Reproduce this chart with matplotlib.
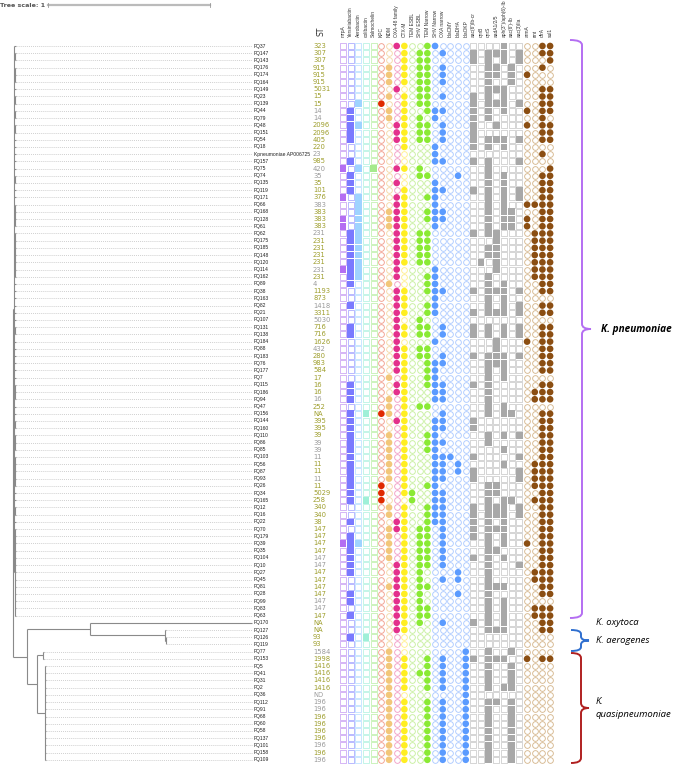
import numpy as np
import matplotlib.pyplot as plt
from matplotlib.path import Path
from matplotlib.patches import PathPatch

isolates = ["FQ37", "FQ147", "FQ143", "FQ176", "FQ174", "FQ164", "FQ149", "FQ23", "FQ139", "FQ44",
            "FQ79", "FQ48", "FQ151", "FQ54", "FQ18", "Kpneumoniae AP006725", "FQ157", "FQ75", "FQ74", "FQ135",
            "FQ119", "FQ171", "FQ66", "FQ168", "FQ128", "FQ61", "FQ62", "FQ175", "FQ185", "FQ148",
            "FQ120", "FQ114", "FQ162", "FQ89", "FQ38", "FQ163", "FQ82", "FQ21", "FQ107", "FQ131",
            "FQ138", "FQ184", "FQ88", "FQ183", "FQ76", "FQ177", "FQ7", "FQ115", "FQ186", "FQ94",
            "FQ47", "FQ156", "FQ144", "FQ160", "FQ110", "FQ86", "FQ85", "FQ103", "FQ56", "FQ87",
            "FQ93", "FQ26", "FQ34", "FQ165", "FQ12", "FQ16", "FQ22", "FQ70", "FQ179", "FQ39",
            "FQ35", "FQ104", "FQ10", "FQ27", "FQ45", "FQ81", "FQ28", "FQ99", "FQ83", "FQ63",
            "FQ170", "FQ127", "FQ126", "FQ119", "FQ77", "FQ153", "FQ5", "FQ41", "FQ31", "FQ2",
            "FQ36", "FQ112", "FQ91", "FQ68", "FQ60", "FQ58", "FQ137", "FQ101", "FQ158", "FQ109"]

st_types = ["323", "307", "307", "915", "915", "915", "5031", "15", "15", "14",
            "14", "2096", "2096", "405", "220", "23", "985", "420", "35", "35",
            "101", "376", "383", "383", "383", "383", "231", "231", "231", "231",
            "231", "231", "231", "4", "1193", "873", "1418", "3311", "5030", "716",
            "716", "1626", "432", "280", "983", "584", "17", "16", "16", "16",
            "252", "NA", "395", "395", "39", "39", "39", "11", "11", "11",
            "11", "11", "5029", "258", "340", "340", "38"] + ["147"] * 13 + \
           ["NA", "NA", "93", "93", "1584", "1998", "1416", "1416", "1416", "1416",
            "ND"] + ["196"] * 9

# o = olive label, g = grey label
st_shade = ("ooooooooog" "goooogoggo" "oogooogooo" "ogogoogogo" "oogoooooog"
            "ooooogggoo" "gooooooooo" "oggooooggo" "oooogooooo" "gggoooogog")

genes = ["mrpA", "Yersiniabactin", "Aerobactin", "colibactin", "Salmochelin",
         "KPC", "NDM", "OXA-48 family", "CTX-M", "TEM ESBL", "SHV ESBL", "TEM Narrow",
         "SHV Narrow", "OXA narrow", "blaCMY", "blaDHA", "blaOKP",
         "aac(6')Ib-cr", "qnrB", "qnrS", "aadA1/2/5", "aph(3'')/aph(6)-Ib", "aac(6')-Ib", "aac(3)IIa",
         "armA", "rmt", "dfrA", "sul1"]

# virulence | beta-lactamases | other resistance | brown block
profile = [
    "00000 001100110000 0000100 0011", "00000 000101101000 1011101 0011",
    "00000 000101100000 1010101 0001", "00000 010101101000 0011010 0010",
    "00000 010101101000 0011010 1000", "00000 010101101000 0010010 0000",
    "00000 001001100000 0011100 0011", "00000 010101101000 1010100 0011",
    "00100 100101100000 1011101 0011", "01000 010100111000 1010100 1011",
    "01000 010101010000 1010000 0010", "01100 001101101000 1001000 1011",
    "01000 001101101000 1000000 0011", "01000 001101101000 1011101 0011",
    "00000 000100010000 1010100 0000", "00000 000000010000 0000000 0010",
    "01000 000000011000 1010001 0000", "10101 001101000000 0010000 0001",
    "01000 000001100010 0010100 0011", "01000 001000010000 0010100 0011",
    "01000 000100011000 1010101 0011", "10100 001100110000 0010101 0011",
    "00100 001100010000 0010100 1111", "00100 011100111000 0010110 0011",
    "10100 011100111000 0010110 1011", "10100 011100010000 0010110 1011",
    "01100 001101100000 1011000 0111", "01100 001101100000 0001000 0111",
    "01100 001101100000 0011000 0111", "01100 001101100000 0011000 0111",
    "01100 001101100000 0101000 0111", "11100 001000010000 0001000 0111",
    "01100 001000110000 0010000 0111", "01000 010000110000 0010100 0011",
    "00000 001100111000 1011101 0011", "00000 001100010000 0010100 0000",
    "01000 001100110000 0010101 0011", "00000 001100110000 1011101 0011",
    "00000 001001000000 0000000 0000", "01000 001101101000 1010101 0011",
    "01000 001101101000 1010101 0011", "00000 001000010000 0001000 1011",
    "00000 001101100000 0001000 0011", "00000 001101101000 1011101 0011",
    "00000 001100111000 0011100 0011", "00000 001100110000 0010100 0011",
    "00000 010100110000 0010100 0000", "01000 001100111000 1010000 0011",
    "01000 001100011000 0010000 0111", "01000 010100011000 0010000 0111",
    "00000 010101100000 0010100 0000", "01010 110100001000 0010110 0011",
    "01000 001100011000 1000000 0011", "01000 000100011000 1000000 0011",
    "01000 010100110000 0010101 0011", "01000 010100111000 0010000 0011",
    "01000 010100110000 0000100 0011", "01000 010100011100 1000001 0011",
    "01000 010100011010 0000100 0111", "01000 010100011010 1000001 0111",
    "01000 010100011000 1000001 0111", "01000 100100110000 0011000 0111",
    "01000 100110011000 0011000 0011", "01010 100010011000 0010110 0111",
    "00000 010100111000 1011101 0011", "00000 010100111000 1011101 0011",
    "01000 001100111000 1010100 0011", "00000 011101101000 1011100 0011",
    "01000 010101101000 1010100 0011", "11100 010101101000 0010100 1011",
    "01000 010101101000 0011000 0011", "01000 010101101000 1010100 0011",
    "01000 001101101000 0010001 0011", "01000 001101000010 0010000 0111",
    "00000 001101001010 0010000 0111", "00000 011101100000 0011100 0011",
    "01000 001101000010 0010000 0011", "01000 001101000000 0010100 0000",
    "00000 001101100000 0010100 0111", "01000 001101100000 0010100 0111",
    "00000 001101001000 1010100 0011", "00000 001100000000 0011100 0011",
    "01010 000000000000 0000000 0000", "00000 000000000000 0000000 0000",
    "00000 010000000001 0010010 0000", "00000 010100101001 1011100 1011",
    "00000 010100101001 0010010 0000", "00000 010101101001 0010010 0000",
    "00000 010100101001 0010010 0000", "00000 010100101001 0010110 0000",
    "00000 010000000001 0000000 0000", "00000 010100101001 0011010 0000",
] + ["00000 010100101001 0010010 0000"] * 8

# tree: K. pneumoniae sub-clade sizes (top to bottom), branch lengths in tree units
kpn_groups = [1, 2, 3, 1, 2, 2, 2, 1, 1, 1, 1, 1, 2, 1, 1, 4, 7, 1, 1, 1, 1, 1, 1, 2, 1, 1,
              1, 1, 1, 1, 3, 1, 1, 2, 3, 5, 1, 1, 2, 1, 13]

# column fill colours and light outline colours
fill_cols = ["#b46ef2", "#7a7aff", "#9fd3ff", "#9ff0d8", "#a5ea8c",
             "#e02a00", "#f2c77a", "#e3308c", "#ffee22", "#8aea34", "#8aea34", "#8aea34",
             "#5b9bff", "#5b9bff", "#5b9bff", "#5b9bff", "#5b9bff"] + ["#a8a8a8"] * 7 + ["#8b4e12"] * 4
edge_cols = ["#d2b0f5", "#b5b5ff", "#c5e5ff", "#c0f5e6", "#c8f2b8",
             "#f2a090", "#f5d9a8", "#f2a0c8", "#fff090", "#c8f0a0", "#c8f0a0", "#c8f0a0",
             "#aecbff", "#aecbff", "#aecbff", "#aecbff", "#aecbff"] + ["#d2d2d2"] * 7 + ["#d6b990"] * 4
square_cols = list(range(0, 5)) + list(range(17, 24))

mat = np.array([[int(c) for c in p.replace(" ", "")] for p in profile])
n_rows = len(isolates)
row_y = 46 + 7.21 * np.arange(n_rows)
col_x = 343 + 7.67 * np.arange(len(genes))

fig = plt.figure(figsize=(6.96, 7.65), dpi=100)
ax = fig.add_axes([0, 0, 1, 1])
ax.set_xlim(0, 696)
ax.set_ylim(765, 0)
ax.axis("off")

# ---- tree ----
x0_px, px_per_unit = 13, 162
def leaf(i, bl):
    return (bl, i)

kpn_children = []
start = 0
for g in kpn_groups:
    if g == 1:
        kpn_children.append(leaf(start, 0.014))
    else:
        kpn_children.append((0.006, [leaf(start + k, 0.008) for k in range(g)]))
    start += g
kpn = (0.004, kpn_children)
aero = (0.465, [leaf(81, 0.006), (0.003, [leaf(82, 0.004), leaf(83, 0.004)])])
oxy_aero = (0.389, [leaf(80, 1.0), aero])
quasi = (0.062, [(0.037, [leaf(84, 0.004), leaf(85, 0.004)]),
                 (0.05, [leaf(i, 0.004 + 0.002 * (i % 3)) for i in range(86, 100)])])
tree = (0.0, [kpn, (0.086, [oxy_aero, quasi])])

segs, tips = [], []
def layout(node, parent_depth):
    bl, content = node
    d = parent_depth + bl
    X0 = x0_px + px_per_unit * parent_depth
    X = x0_px + px_per_unit * d
    if isinstance(content, (int, np.integer)):
        y = row_y[content]
        segs.append(([X0, X], [y, y]))
        tips.append((X, y))
        return y
    ys = [layout(c, d) for c in content]
    y = (min(ys) + max(ys)) / 2
    segs.append(([X, X], [min(ys), max(ys)]))
    segs.append(([X0, X], [y, y]))
    return y

layout(tree, 0.0)
for xs, ys in segs:
    ax.plot(xs, ys, color="#8a8a8a", lw=0.8, solid_capstyle="butt")
for X, y in tips:
    if X < 250:
        ax.plot([X + 1, 252], [y, y], color="#b5b5b5", lw=0.5, ls=(0, (1.2, 1.6)))

# tree scale
ax.text(0, 5, "Tree scale: 1", fontsize=4.6, fontweight="bold", color="#555555", va="center")
ax.plot([48, 48 + px_per_unit], [5, 5], color="#bbbbbb", lw=1.6)
ax.plot([48, 48], [3, 7], color="#999999", lw=0.6)
ax.plot([48 + px_per_unit] * 2, [3, 7], color="#999999", lw=0.6)

# labels
for y, name, st, sh in zip(row_y, isolates, st_types, st_shade):
    ax.text(254, y, name, fontsize=3.6, color="#222222", va="center", ha="left",
            family=["Liberation Sans", "DejaVu Sans"])
    ax.text(313, y, st, fontsize=4.9, color="#9e9e2c" if sh == "o" else "#9a9a9a",
            va="center", ha="left")
ax.text(321, 36, "ST", fontsize=5.5, rotation=90, ha="center", va="bottom", color="#333333")
for x, g in zip(col_x, genes):
    ax.text(x, 37, g, fontsize=3.5, rotation=90, ha="center", va="bottom", color="#333333",
            family=["Liberation Sans", "DejaVu Sans"])

# matrix
for j, x in enumerate(col_x):
    xs = np.full(n_rows, x)
    on = mat[:, j] == 1
    marker = "s" if j in square_cols else "o"
    ax.scatter(xs[~on], row_y[~on], marker=marker, s=17, facecolor="white",
               edgecolor=edge_cols[j], linewidth=0.65, zorder=3)
    ax.scatter(xs[on], row_y[on], marker=marker, s=23, facecolor=fill_cols[j],
               edgecolor="none", zorder=3)

# species braces
def brace(x, y0, y1, color, hook=12, tip=9, r=5):
    ym = (y0 + y1) / 2
    verts = [(x - hook, y0), (x, y0), (x, y0 + r),
             (x, ym - r), (x, ym), (x + tip, ym),
             (x, ym), (x, ym + r),
             (x, y1 - r), (x, y1), (x - hook, y1)]
    codes = [Path.MOVETO, Path.CURVE3, Path.CURVE3,
             Path.LINETO, Path.CURVE3, Path.CURVE3,
             Path.CURVE3, Path.CURVE3,
             Path.LINETO, Path.CURVE3, Path.CURVE3]
    ax.add_patch(PathPatch(Path(verts, codes), facecolor="none", edgecolor=color, lw=1.4))
    return ym

species_font = ["Open Sans", "DejaVu Sans"]
ym = brace(582, 40, 618, "#b46ef2")
ax.text(601, ym, "K. pneumoniae", fontsize=7.2, style="italic", fontweight="bold",
        va="center", family=species_font)
ax.text(596, row_y[80], "K. oxytoca", fontsize=6.8, style="italic", va="center", family=species_font)
ym = brace(581, 630, 651, "#2f6fcf", hook=10, tip=8, r=4)
ax.text(596, ym, "K. aerogenes", fontsize=6.8, style="italic", va="center", family=species_font)
ym = brace(581, 653, 763, "#b02020", hook=10, tip=8)
ax.text(596, ym, "K.\nquasipneumoniae", fontsize=6.8, style="italic", va="center",
        family=species_font, linespacing=1.5)

fig.savefig("out.png", dpi=100)
